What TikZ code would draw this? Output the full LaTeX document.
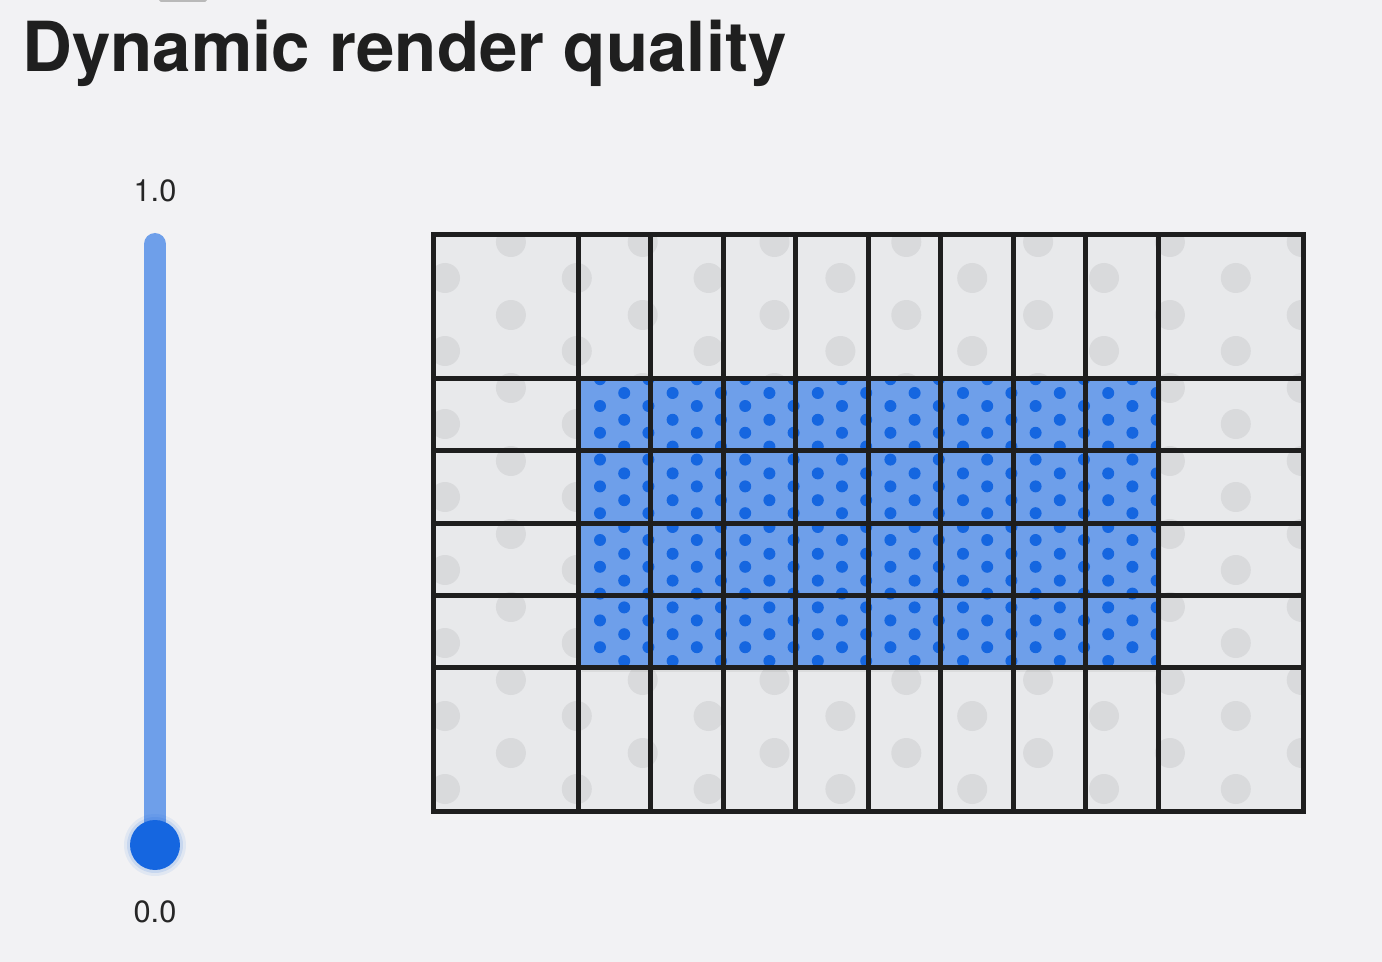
\documentclass[tikz,border=0pt]{standalone}
\usepackage{fontspec}
\setmainfont{TeX Gyre Heros}
\usepackage{tikz}
\usetikzlibrary{shadows}
\definecolor{bgcol}{HTML}{F2F2F4}
\definecolor{cellgrey}{HTML}{E8E9EB}
\definecolor{dotgrey}{HTML}{D9DADC}
\definecolor{lightblue}{HTML}{6E9FEA}
\definecolor{deepblue}{HTML}{1566E0}
\definecolor{inkline}{HTML}{1E1E1E}
\tikzset{
    gridline/.style={
        line width=0.1cm,
        inkline,
        line cap=rect
    },
    % dots of the two tile patterns
    greydot/.style={
        fill=dotgrey
    },
    bluedot/.style={
        fill=deepblue
    },
    ticklabel/.style={
        inner sep=0pt,
        text=black!85,
        font=\fontsize{17.5}{20}\selectfont
    }
}

\begin{document}
\begin{tikzpicture}[x=0.02cm,y=-0.02cm]
    \useasboundingbox (0,0) rectangle (1382,962);
    \fill[bgcol] (0,0) rectangle (1382,962);
    \fill[gray!55,rounded corners=1pt] (159,-3) rectangle (207,2);
    \node[anchor=base west,inner sep=0pt,text=black!88,
      font=\bfseries\fontsize{39.3}{42}\selectfont] (title) at (22,72) {Dynamic render quality};

    \path (155,244) coordinate (bartop) (155,845) coordinate (knobpos);
    \draw[line width=0.44cm,lightblue,line cap=round] (bartop) -- (knobpos);
    \fill[deepblue,opacity=0.08] (knobpos) circle (0.62cm);
    \fill[deepblue,opacity=0.12] (knobpos) circle (0.56cm);
    \node[circle,fill=deepblue,minimum size=1cm,inner sep=0pt] (knob) at (knobpos) {};
    \node[ticklabel,anchor=base] (topval) at (155,202) {1.0};
    \node[ticklabel,anchor=base] (botval) at (155,922) {0.0};

    \fill[cellgrey] (433,235) rectangle (1303,811);
    \begin{scope}
      \clip (433,235) rectangle (1303,811);
      \foreach \k in {0,...,13} {
        \pgfmathsetmacro{\dx}{445+65.9*\k}
        \pgfmathsetmacro{\dy}{isodd(\k) ? 242 : 205}
        \foreach \m in {0,...,8}
          \fill[greydot] (\dx,\dy+73*\m) circle (0.3cm);
      }
    \end{scope}

    \fill[lightblue,drop shadow={opacity=0.12,shadow xshift=2pt,shadow yshift=-3pt}]
      (578,379) rectangle (1158,667);
    \begin{scope}
      \clip (578,379) rectangle (1158,667);
      \foreach \k in {0,...,23} {
        \pgfmathsetmacro{\dx}{600+24.2*\k}
        \pgfmathsetmacro{\dy}{isodd(\k) ? 366.2 : 379.2}
        \foreach \m in {0,...,12}
          \fill[bluedot] (\dx,\dy+26.8*\m) circle (0.12cm);
      }
    \end{scope}

    \foreach \gx in {433,578,650.5,723,795.5,868,940.5,1013,1085.5,1158,1303}
      \draw[gridline] (\gx,235) -- (\gx,811);
    \foreach \gy in {235,379,451,523,595,667,811}
      \draw[gridline] (433,\gy) -- (1303,\gy);
\end{tikzpicture}
\end{document}
